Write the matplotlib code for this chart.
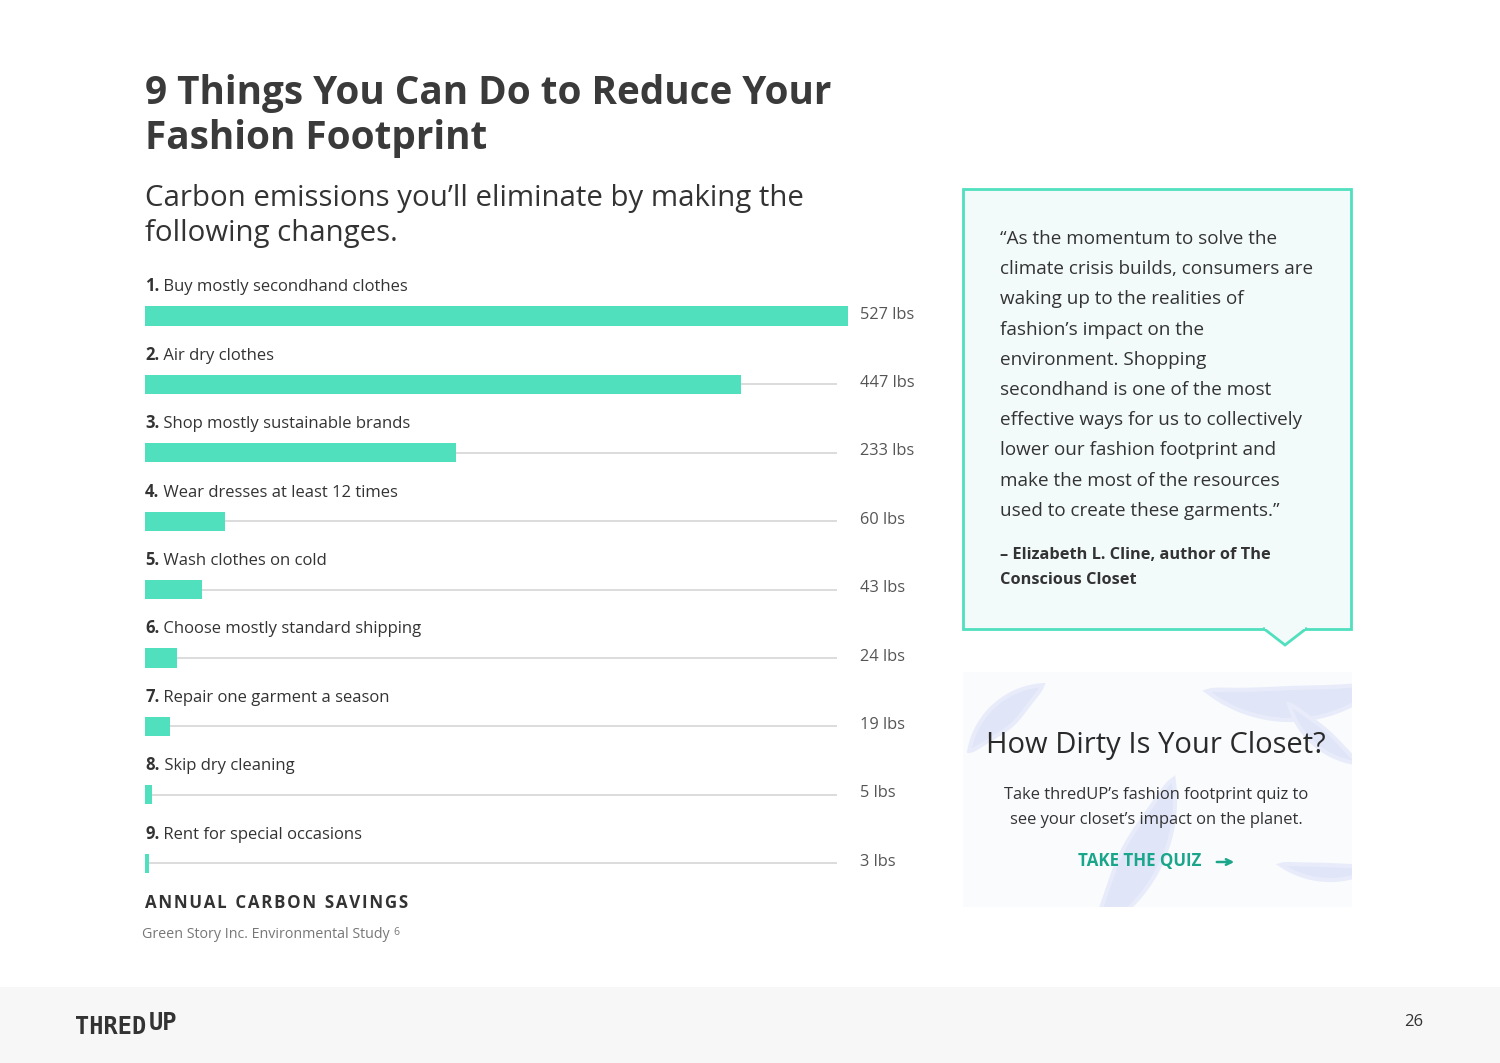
import numpy as np
import matplotlib.pyplot as plt
from matplotlib.patches import Rectangle, Polygon

plt.rcParams['font.family'] = ['Open Sans', 'DejaVu Sans']

# data
nums = ['1.', '2.', '3.', '4.', '5.', '6.', '7.', '8.', '9.']
actions = ['Buy mostly secondhand clothes', 'Air dry clothes',
           'Shop mostly sustainable brands', 'Wear dresses at least 12 times',
           'Wash clothes on cold', 'Choose mostly standard shipping',
           'Repair one garment a season', 'Skip dry cleaning',
           'Rent for special occasions']
lbs = [527, 447, 233, 60, 43, 24, 19, 5, 3]

quote_lines = ['\u201cAs the momentum to solve the',
               'climate crisis builds, consumers are',
               'waking up to the realities of',
               'fashion\u2019s impact on the',
               'environment. Shopping',
               'secondhand is one of the most',
               'effective ways for us to collectively',
               'lower our fashion footprint and',
               'make the most of the resources',
               'used to create these garments.\u201d']
author_lines = ['\u2013 Elizabeth L. Cline, author of The', 'Conscious Closet']

W, H = 1500, 1063
teal = '#50e0be'
dark = '#3a3a3a'


def crescent(cx, cy, r, t0, t1, thick):
    # brush-stroke shape between two arcs, tapered at both ends (pixel coords)
    th = np.radians(np.linspace(t0, t1, 60))
    s = np.linspace(0, 1, 60)
    ro = r
    ri = r - thick * np.sin(np.pi * s) ** 0.7
    xo, yo = cx + ro * np.cos(th), cy - ro * np.sin(th)
    xi, yi = cx + ri * np.cos(th), cy - ri * np.sin(th)
    return np.column_stack([np.r_[xo, xi[::-1]], np.r_[yo, yi[::-1]]])


fig = plt.figure(figsize=(15, 10.63), dpi=100)
fig.patch.set_facecolor('white')

# background layer in pixel coordinates
bg = fig.add_axes([0, 0, 1, 1])
bg.set_xlim(0, W)
bg.set_ylim(H, 0)
bg.axis('off')

# footer band
bg.add_patch(Rectangle((0, 987), W, 76, color='#f7f7f7', lw=0))
logo = bg.text(75, 1034, 'THRED', fontsize=17, fontweight='bold', color='#333333',
               va='baseline', ha='left', family=['DejaVu Sans Mono', 'DejaVu Sans'])
bg.annotate('UP', xy=(1, 1), xycoords=logo, va='top', ha='left',
            xytext=(2, 3), textcoords='offset points',
            fontsize=17, fontweight='bold', color='#333333',
            family=['DejaVu Sans Mono', 'DejaVu Sans'])
bg.text(1414, 1022, '26', fontsize=12, color='#333333', va='center', ha='center')

# titles
bg.text(145, 104, '9 Things You Can Do to Reduce Your', fontsize=27.8,
        fontweight='bold', color=dark, va='baseline')
bg.text(145, 149, 'Fashion Footprint', fontsize=27.8, fontweight='bold',
        color=dark, va='baseline')
bg.text(145, 206, 'Carbon emissions you\u2019ll eliminate by making the',
        fontsize=21.2, color='#333333', va='baseline')
bg.text(145, 241, 'following changes.', fontsize=21.2, color='#333333',
        va='baseline')

sp = '\u200a'
bg.text(145, 908, sp.join('ANNUAL') + '  ' + sp.join('CARBON') + '  ' + sp.join('SAVINGS'),
        fontsize=12.2, fontweight='bold', color='#333333', va='baseline')
src = bg.text(142, 938, 'Green Story Inc. Environmental Study', fontsize=10.3,
              color='#777777', va='baseline')
bg.annotate('6', xy=(1, 1), xycoords=src, xytext=(3, 0), textcoords='offset points',
            va='top', ha='left', fontsize=7.5, color='#777777')

# quote box
bg.add_patch(Rectangle((963, 189), 388, 440, facecolor='#f3fbfa',
                       edgecolor=teal, lw=2))
bg.add_patch(Polygon([(1263, 628), (1285, 645), (1307, 628)], closed=False,
                     facecolor='#f3fbfa', edgecolor=teal, lw=2))
bg.add_patch(Rectangle((1265, 626), 40, 3, facecolor='#f3fbfa', lw=0))
for i, line in enumerate(quote_lines):
    bg.text(1000, 244 + i * 30.2, line, fontsize=13.6, color='#333333',
            va='baseline')
for i, line in enumerate(author_lines):
    bg.text(1000, 559 + i * 25, line, fontsize=11.8, fontweight='bold',
            color='#333333', va='baseline')

# quiz card with brush-stroke decoration
card = Rectangle((963, 672), 389, 235, facecolor='#fafbfd', lw=0)
bg.add_patch(card)
strokes = [(1048, 765, 80, 94, 170, 26),
           (1290, 585, 135, 232, 312, 32),
           (1368, 682, 82, 196, 262, 18),
           (1025, 800, 150, 8, -62, 40),
           (1330, 792, 88, 236, 300, 15)]
for cx, cy, r, t0, t1, thick in strokes:
    p = Polygon(crescent(cx, cy, r, t0, t1, thick), closed=True,
                facecolor='#e0e5f8', edgecolor='#e8ecfa', lw=3)
    bg.add_patch(p)
    p.set_clip_path(card)
bg.text(1156, 745, 'How Dirty Is Your Closet?', fontsize=21, color='#2a2a2a',
        ha='center', va='center')
bg.text(1156, 795, 'Take thredUP\u2019s fashion footprint quiz to', fontsize=11.9,
        color='#333333', ha='center', va='center')
bg.text(1156, 820, 'see your closet\u2019s impact on the planet.', fontsize=11.9,
        color='#333333', ha='center', va='center')
bg.text(1140, 861, 'TAKE THE QUIZ', fontsize=12.2, fontweight='bold',
        color='#1aa68a', ha='center', va='center')
bg.annotate('', xy=(1237, 862), xytext=(1214, 862),
            arrowprops=dict(arrowstyle='->', color='#1aa68a', lw=1.8))

# bar chart axes
left, right = 145, 848
step = 68.4
top = 316 - step / 2
bottom = top + step * len(lbs)
ax = fig.add_axes([left / W, 1 - bottom / H, (right - left) / W, (bottom - top) / H])
ax.set_xlim(0, max(lbs))
ax.set_ylim(len(lbs) - 0.5, -0.5)
ax.axis('off')
ax.patch.set_alpha(0)

ypos = list(range(len(lbs)))
track_end = max(lbs) * (837 - left) / (right - left)
ax.hlines(ypos[1:], 0, track_end, color='#d6d6d6', lw=1.2, zorder=1)
ax.barh(ypos, lbs, height=0.28, color=teal, zorder=2)

for y, n, a, v in zip(ypos, nums, actions, lbs):
    t = ax.text(0, y - 0.36, n, fontsize=12, fontweight='bold', color='#333333',
                va='baseline', ha='left')
    ax.annotate(' ' + a, xy=(1, 0), xycoords=t, va='bottom', ha='left',
                fontsize=12, color='#333333')
    ax.text(1.017, y - 0.02, f'{v} lbs', transform=ax.get_yaxis_transform(),
            fontsize=11.8, color='#555555', va='center', ha='left')

fig.savefig('out.png', dpi=100)
